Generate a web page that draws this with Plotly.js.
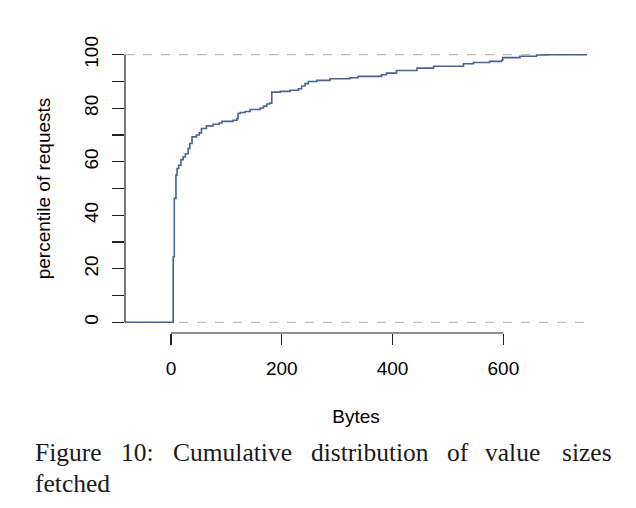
<!DOCTYPE html>
<html>
<head>
<meta charset="utf-8">
<script src="https://cdn.plot.ly/plotly-3.0.1.min.js"></script>
<style>html,body{margin:0;padding:0;background:#fff;}#chart{width:636px;height:508px;}</style>
</head>
<body>
<div id="chart"></div>
<script>
// ECDF breakpoints: value size (bytes) -> percentile of requests
var sizeBytes = [-83, 4, 6, 9, 11, 14, 18, 22, 26, 31, 34, 38, 46, 51, 55, 64, 76, 87, 92, 112, 119, 121, 125, 134, 143, 161, 167, 173, 178, 182, 197, 215, 230, 236, 242, 248, 263, 287, 323, 338, 380, 389, 407, 444, 474, 528, 546, 575, 597, 599, 630, 660, 680, 751];
var percentile = [0, 24.5, 46.3, 55, 57.5, 58.7, 60.8, 61.8, 63, 65, 66.8, 69.3, 70, 70.8, 72.4, 73.4, 74, 74.5, 75.1, 75.5, 76.1, 78, 78.4, 78.8, 79.5, 80.1, 80.8, 81.6, 81.9, 86.0, 86.3, 86.7, 87.3, 88.3, 89.2, 90, 90.4, 91, 91.4, 91.9, 92.5, 93.1, 94.1, 95, 95.7, 96.6, 97.1, 97.5, 97.9, 98.9, 99.4, 99.9, 100, 100];

var xTickVals = [0, 200, 400, 600];
var xTickText = ['0', '200', '400', '600'];
var yTickVals = [0, 10, 20, 30, 40, 50, 60, 70, 80, 90, 100];
var yTickText = ['0', '', '20', '', '40', '', '60', '', '80', '', '100'];
var refLines = [0, 100];

var captionLine1 = ['Figure', '10:', 'Cumulative', 'distribution', 'of', 'value', 'sizes'];
var captionLine2 = ['fetched'];

var W = 636, H = 508, L = 125, R = 49, T = 44, B = 175;
function pxX(px) { return (px - L) / (W - L - R); }
function pxY(py) { return (H - B - py) / (H - T - B); }

var word1X = [32.7, 119.3, 170.7, 309.3, 445, 483.2, 559.8];
var word2X = [32.7];

var annotations = [];
captionLine1.forEach(function (w, i) {
  annotations.push({text: w, xref: 'paper', yref: 'paper', x: pxX(word1X[i]), y: pxY(469), xanchor: 'left', yanchor: 'bottom', showarrow: false,
    font: {family: 'Liberation Serif, Times New Roman, serif', size: 25.5, color: '#1a1a1a'}});
});
captionLine2.forEach(function (w, i) {
  annotations.push({text: w, xref: 'paper', yref: 'paper', x: pxX(word2X[i]), y: pxY(500), xanchor: 'left', yanchor: 'bottom', showarrow: false,
    font: {family: 'Liberation Serif, Times New Roman, serif', size: 25.5, color: '#1a1a1a'}});
});

var shapes = [];
refLines.forEach(function (v) {
  shapes.push({type: 'line', layer: 'below', xref: 'paper', x0: 0, x1: 1, yref: 'y', y0: v, y1: v,
    line: {color: '#bdbdbd', width: 1.3, dash: 'dash'}});
});
shapes.push({type: 'line', xref: 'paper', x0: 0, x1: 0, yref: 'y', y0: yTickVals[0], y1: yTickVals[yTickVals.length - 1], line: {color: '#222', width: 1.2}});
shapes.push({type: 'line', xref: 'x', x0: xTickVals[0], x1: xTickVals[xTickVals.length - 1], yref: 'paper', y0: 0, y1: 0, line: {color: '#222', width: 1.2}});

var trace = {x: sizeBytes, y: percentile, type: 'scatter', mode: 'lines', line: {shape: 'hv', color: '#4a6391', width: 1.6}, hoverinfo: 'skip'};

var axisFont = {family: 'Liberation Sans, Arial, Helvetica, sans-serif', size: 19, color: '#000'};
var layout = {
  width: W, height: H,
  margin: {l: L, r: R, t: T, b: B, pad: 0},
  paper_bgcolor: '#fff', plot_bgcolor: '#fff',
  showlegend: false,
  xaxis: {range: [-83, 751], tickmode: 'array', tickvals: xTickVals, ticktext: xTickText, ticks: 'outside', ticklen: 11, tickwidth: 1.2, tickcolor: '#222',
    showgrid: false, zeroline: false, showline: false, tickfont: axisFont, ticklabelstandoff: 7,
    title: {text: 'Bytes', font: axisFont, standoff: 31}, automargin: false},
  yaxis: {range: [-4, 104], tickmode: 'array', tickvals: yTickVals, ticktext: yTickText, ticks: 'outside', ticklen: 12, tickwidth: 1.2, tickcolor: '#222',
    tickangle: -90, showgrid: false, zeroline: false, showline: false, tickfont: axisFont, ticklabelstandoff: 6,
    title: {text: 'percentile of requests', font: axisFont, standoff: 25}, automargin: false},
  shapes: shapes,
  annotations: annotations
};

Plotly.newPlot('chart', [trace], layout, {displayModeBar: false, staticPlot: true});
</script>
</body>
</html>
